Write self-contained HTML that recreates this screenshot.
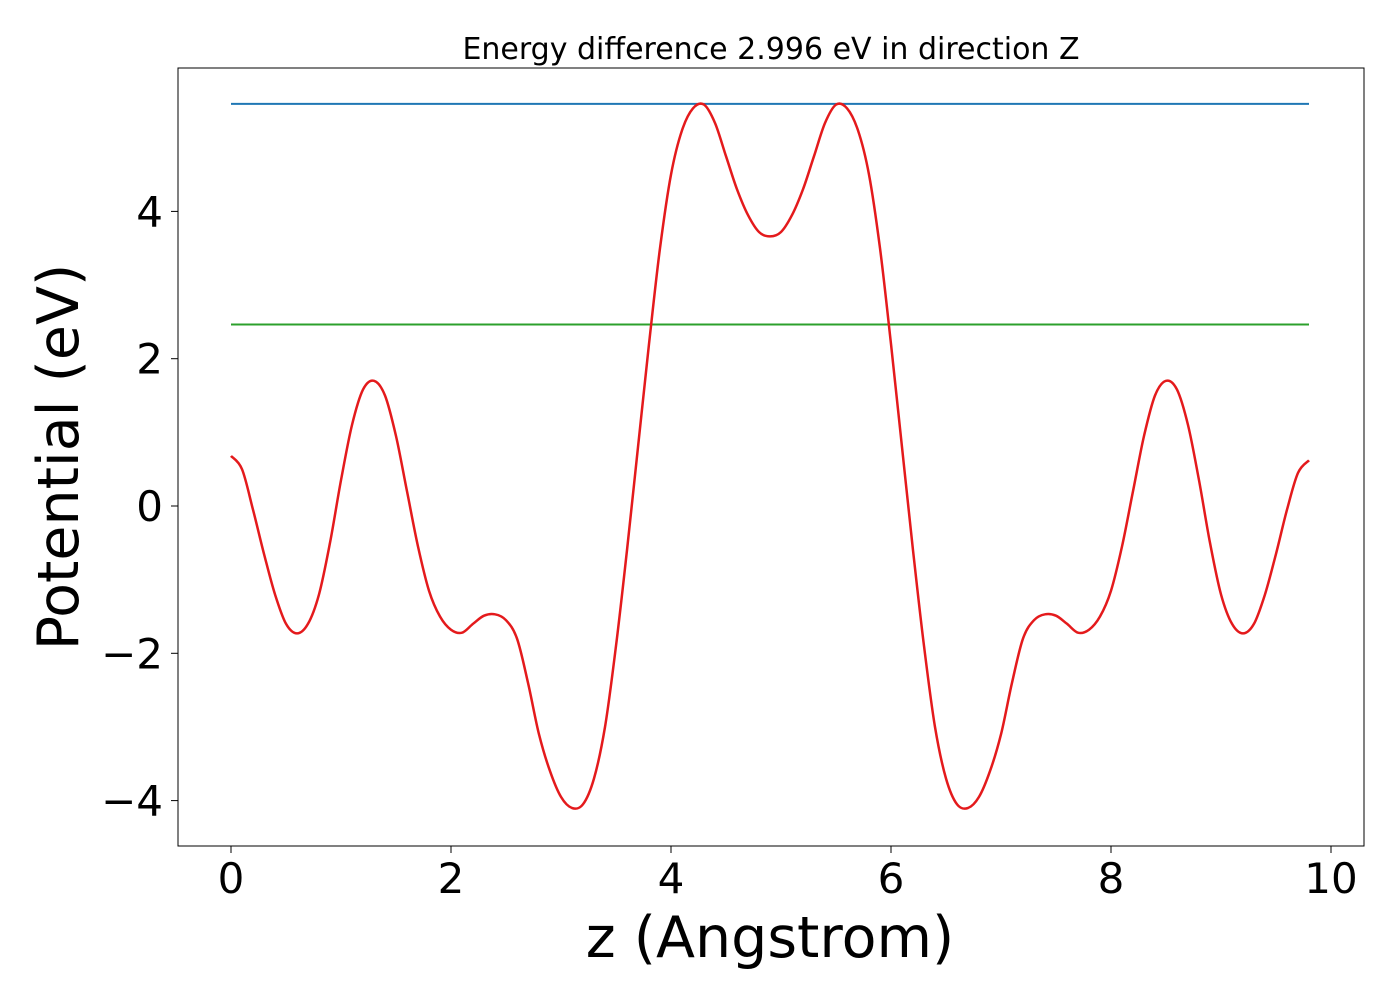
<!DOCTYPE html>
<html><head><meta charset="utf-8"><style>
body{margin:0;background:#fff;}
svg text{font-family:"DejaVu Sans","Liberation Sans",sans-serif;fill:#000;}
</style></head><body>
<svg id="chart" width="1400" height="1000" xmlns="http://www.w3.org/2000/svg">
<rect x="0" y="0" width="1400" height="1000" fill="#fff"/>
<text x="771" y="59" font-size="30" text-anchor="middle">Energy difference 2.996 eV in direction Z</text>
<g id="plot"></g>
<rect x="178" y="68" width="1186" height="778" fill="none" stroke="#000" stroke-width="1"/>
<g id="xticks"></g>
<g id="yticks"></g>
<text x="770" y="957" font-size="57" text-anchor="middle">z (Angstrom)</text>
<text transform="translate(78,457) rotate(-90)" font-size="57" text-anchor="middle">Potential (eV)</text>
</svg>
<script>
const xTicks=[0,2,4,6,8,10];
const yTicks=[-4,-2,0,2,4];
const vacuumLevel=5.46;
const fermiLevel=2.464;
const zValues=[0.0,0.1,0.2,0.3,0.4,0.5,0.6,0.7,0.8,0.9,1.0,1.1,1.2,1.3,1.4,1.5,1.6,1.7,1.8,1.9,2.0,2.1,2.2,2.3,2.4,2.5,2.6,2.7,2.8,2.9,3.0,3.1,3.2,3.3,3.4,3.5,3.6,3.7,3.8,3.9,4.0,4.1,4.2,4.3,4.4,4.5,4.6,4.7,4.8,4.9,5.0,5.1,5.2,5.3,5.4,5.5,5.6,5.7,5.8,5.9,6.0,6.1,6.2,6.3,6.4,6.5,6.6,6.7,6.8,6.9,7.0,7.1,7.2,7.3,7.4,7.5,7.6,7.7,7.8,7.9,8.0,8.1,8.2,8.3,8.4,8.5,8.6,8.7,8.8,8.9,9.0,9.1,9.2,9.3,9.4,9.5,9.6,9.7,9.8];
const potential=[0.68,0.5,-0.05,-0.65,-1.2,-1.6,-1.73,-1.6,-1.2,-0.5,0.35,1.1,1.58,1.7,1.5,0.95,0.2,-0.55,-1.15,-1.5,-1.68,-1.72,-1.6,-1.49,-1.47,-1.55,-1.8,-2.4,-3.1,-3.6,-3.95,-4.1,-4.05,-3.7,-3.0,-1.9,-0.6,0.8,2.2,3.5,4.5,5.1,5.4,5.45,5.2,4.75,4.3,3.95,3.72,3.66,3.72,3.95,4.3,4.75,5.2,5.45,5.4,5.1,4.5,3.5,2.2,0.8,-0.6,-1.9,-3.0,-3.7,-4.05,-4.1,-3.95,-3.6,-3.1,-2.4,-1.8,-1.55,-1.47,-1.49,-1.6,-1.72,-1.68,-1.5,-1.15,-0.55,0.2,0.95,1.5,1.7,1.58,1.1,0.35,-0.5,-1.2,-1.6,-1.73,-1.6,-1.2,-0.65,-0.05,0.45,0.62];
const NS="http://www.w3.org/2000/svg";
function sx(v){return 231+v*110;}
function sy(v){return 506-v*73.65;}
function mk(tag,attrs,parent){const e=document.createElementNS(NS,tag);for(const k in attrs)e.setAttribute(k,attrs[k]);parent.appendChild(e);return e;}
const plot=document.getElementById('plot');
const x0=sx(zValues[0]),x1=sx(zValues[zValues.length-1]);
let l=mk('line',{x1:x0,x2:x1,y1:sy(vacuumLevel),y2:sy(vacuumLevel),stroke:'#1f77b4','stroke-width':2},plot);


l=mk('line',{x1:x0,x2:x1,y1:sy(fermiLevel),y2:sy(fermiLevel),stroke:'#2ca02c','stroke-width':2},plot);


const pts=zValues.map((z,i)=>[sx(z),sy(potential[i])]);
let d='M'+pts[0][0].toFixed(1)+','+pts[0][1].toFixed(1);
for(let i=0;i<pts.length-1;i++){
 const p0=pts[Math.max(i-1,0)],p1=pts[i],p2=pts[i+1],p3=pts[Math.min(i+2,pts.length-1)];
 const c1=[p1[0]+(p2[0]-p0[0])/6,p1[1]+(p2[1]-p0[1])/6];
 const c2=[p2[0]-(p3[0]-p1[0])/6,p2[1]-(p3[1]-p1[1])/6];
 d+=' C'+c1[0].toFixed(1)+','+c1[1].toFixed(1)+' '+c2[0].toFixed(1)+','+c2[1].toFixed(1)+' '+p2[0].toFixed(1)+','+p2[1].toFixed(1);
}
const p=mk('path',{d:d,fill:'none',stroke:'#e41a1c','stroke-width':2.5,'stroke-linejoin':'round'},plot);


const xg=document.getElementById('xticks');
xTicks.forEach(t=>{
 const tk=mk('line',{x1:sx(t),x2:sx(t),y1:846,y2:853,stroke:'#000','stroke-width':1},xg);
 
 
 const tx=mk('text',{x:sx(t),y:893,'font-size':42,'text-anchor':'middle'},xg);
 tx.textContent=String(t);
 
 
});
const yg=document.getElementById('yticks');
yTicks.forEach(t=>{
 const tk=mk('line',{x1:171,x2:178,y1:sy(t),y2:sy(t),stroke:'#000','stroke-width':1},yg);
 
 
 const tx=mk('text',{x:163,y:sy(t)+15,'font-size':42,'text-anchor':'end'},yg);
 tx.textContent=t<0?'\u2212'+Math.abs(t):String(t);
 
 
});
</script>
</body></html>
